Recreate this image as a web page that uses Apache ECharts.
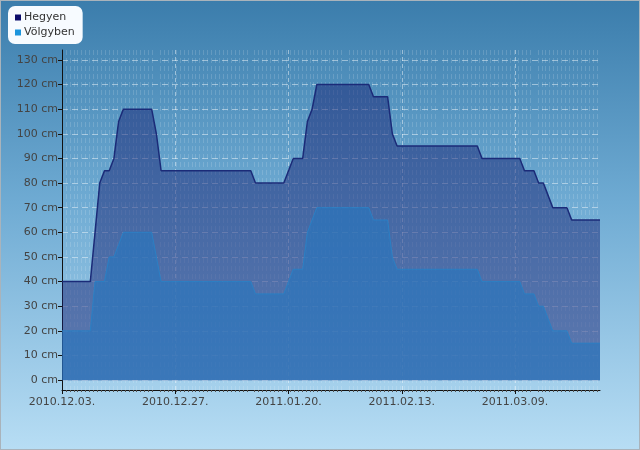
<!DOCTYPE html>
<html>
<head>
<meta charset="utf-8">
<script src="https://cdn.jsdelivr.net/npm/echarts@6/dist/echarts.min.js"></script>
<style>
  html, body { margin: 0; padding: 0; }
  #chart {
    width: 638px; height: 448px;
    border: 1px solid #a9b3bb;
    background: linear-gradient(to bottom, #3b7dac 0%, #6fabd3 45%, #b7ddf4 100%);
  }
</style>
</head>
<body>
<div id="chart"></div>
<script>
// napok 2010.12.03-tól (0. nap) 2011.03.27-ig (114. nap)
const startDate = new Date(2010, 11, 3);
const days = [];
for (let i = 0; i < 115; i++) {
  const d = new Date(startDate.getTime() + i * 86400000);
  days.push(d.getFullYear() + "." + String(d.getMonth() + 1).padStart(2, "0") + "." + String(d.getDate()).padStart(2, "0") + ".");
}

const xTicks = [0, 24, 48, 72, 96];
const yTicks = [0, 10, 20, 30, 40, 50, 60, 70, 80, 90, 100, 110, 120, 130];

const hegyen = [
  40, 40, 40, 40, 40, 40, 40, 60, 80, 85, 85, 90, 105,
  110, 110, 110, 110, 110, 110, 110, 100,
  85, 85, 85, 85, 85, 85, 85, 85, 85, 85, 85, 85, 85, 85, 85, 85, 85, 85, 85, 85,
  80, 80, 80, 80, 80, 80, 80, 85, 90, 90, 90, 105, 110,
  120, 120, 120, 120, 120, 120, 120, 120, 120, 120, 120, 120,
  115, 115, 115, 115, 100,
  95, 95, 95, 95, 95, 95, 95, 95, 95, 95, 95, 95, 95, 95, 95, 95, 95, 95,
  90, 90, 90, 90, 90, 90, 90, 90, 90,
  85, 85, 85, 80, 80, 75, 70, 70, 70, 70,
  65, 65, 65, 65, 65, 65, 65
];

const volgyben = [
  20, 20, 20, 20, 20, 20, 20, 40, 40, 40, 50, 50, 55,
  60, 60, 60, 60, 60, 60, 60, 50,
  40, 40, 40, 40, 40, 40, 40, 40, 40, 40, 40, 40, 40, 40, 40, 40, 40, 40, 40, 40,
  35, 35, 35, 35, 35, 35, 35, 40, 45, 45, 45, 60, 65,
  70, 70, 70, 70, 70, 70, 70, 70, 70, 70, 70, 70,
  65, 65, 65, 65, 50,
  45, 45, 45, 45, 45, 45, 45, 45, 45, 45, 45, 45, 45, 45, 45, 45, 45, 45,
  40, 40, 40, 40, 40, 40, 40, 40, 40,
  35, 35, 35, 30, 30, 25, 20, 20, 20, 20,
  15, 15, 15, 15, 15, 15, 15
];

let mychart = echarts.init(document.getElementById("chart"));
mychart.setOption({
  animation: false,
  textStyle: { fontFamily: "DejaVu Sans" },
  legend: {
    left: 7,
    top: 5,
    orient: "vertical",
    backgroundColor: "#f7fbff",
    borderRadius: 7,
    padding: [6, 8, 6, 7],
    itemWidth: 6,
    itemHeight: 6,
    itemGap: 4,
    icon: "rect",
    textStyle: { fontSize: 11, color: "#333", padding: [0, 0, 0, -2] },
    data: [
      { name: "Hegyen", itemStyle: { color: "#0c0c6a" } },
      { name: "Völgyben", itemStyle: { color: "#1c95dc" } }
    ]
  },
  grid: {
    left: 61,
    right: 39,
    top: 49,
    bottom: 59
  },
  xAxis: {
    type: "value",
    min: 0,
    max: 114,
    axisLine: { onZero: false, lineStyle: { color: "#111", width: 1 } },
    axisTick: { customValues: xTicks, length: 4, lineStyle: { color: "#111" } },
    minorTick: { show: true, splitNumber: 24, length: 2, lineStyle: { color: "#555" } },
    axisLabel: {
      customValues: xTicks,
      formatter: (v) => days[v],
      color: "#444",
      fontSize: 11,
      margin: 7
    },
    splitLine: {
      show: true,
      lineStyle: { color: "rgba(255,255,255,0.45)", type: [4, 3] }
    },
    minorSplitLine: {
      show: true,
      lineStyle: { color: "rgba(255,255,255,0.15)", type: [5, 3] }
    }
  },
  yAxis: {
    type: "value",
    min: -4,
    max: 134,
    axisLine: { show: true, lineStyle: { color: "#111" } },
    axisTick: { customValues: yTicks, length: 4, lineStyle: { color: "#111" } },
    axisLabel: {
      customValues: yTicks,
      formatter: (v) => v + " cm",
      color: "#444",
      fontSize: 11,
      margin: 4
    },
    splitLine: {
      show: true,
      lineStyle: { color: "rgba(255,255,255,0.45)", type: [6, 4] }
    }
  },
  series: [
    {
      name: "Hegyen",
      type: "line",
      symbol: "none",
      data: hegyen.map((v, i) => [i, v]),
      itemStyle: { color: "#0c0c6a" },
      lineStyle: { color: "#1b2b78", width: 1.5 },
      areaStyle: { color: "rgba(22,32,115,0.7)" }
    },
    {
      name: "Völgyben",
      type: "line",
      symbol: "none",
      data: volgyben.map((v, i) => [i, v]),
      itemStyle: { color: "#1c95dc" },
      lineStyle: { color: "#2a7fc4", width: 1 },
      areaStyle: { color: "rgba(40,118,188,0.95)" }
    }
  ]
});
</script>
</body>
</html>
